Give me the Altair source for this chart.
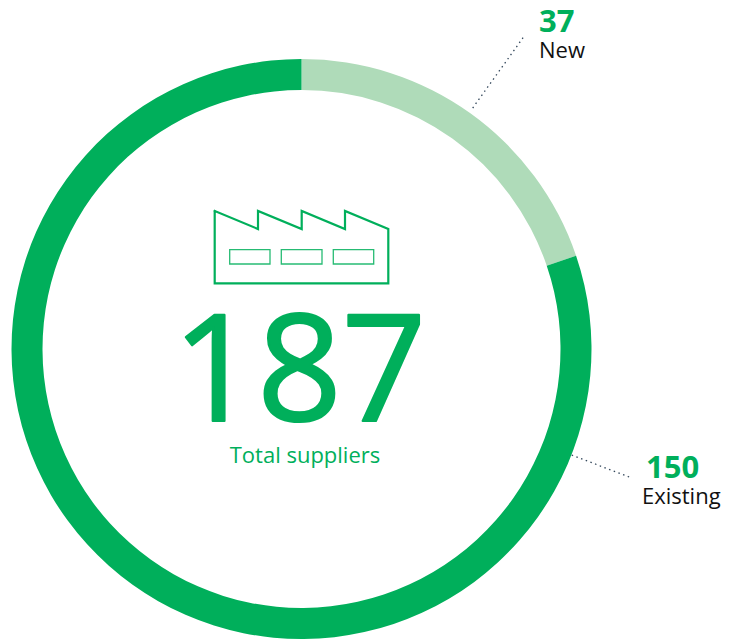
import altair as alt
import pandas as pd

GREEN = "#00AF5B"
LIGHT = "#AFDBB9"
FONT = "Open Sans"

segments = ["New", "Existing"]
values = [37, 150]
seg_colors = [LIGHT, GREEN]

# geometry of overlay items, in reference pixels
factory_x = [214.7, 258, 258, 301.7, 301.7, 345, 345, 388.3, 388.3, 214.7, 214.7]
factory_y = [211, 229, 211, 229, 211, 229, 211, 229, 283.3, 283.3, 211]
window_x = [229.7, 281.3, 333.3]
window_x2 = [270, 322, 373.7]
window_y = [249.7] * 3
window_y2 = [264] * 3
leader_x = [472.7, 571.7]
leader_x2 = [525, 631.7]
leader_y = [108, 455]
leader_y2 = [35, 478]

xs = alt.Scale(domain=[8, 722], range=[0, 714])
ys = alt.Scale(domain=[8, 640], range=[0, 632])
X = lambda f: alt.X(f, type="quantitative", scale=xs, axis=None)
Y = lambda f: alt.Y(f, type="quantitative", scale=ys, axis=None)

donut = alt.Chart(pd.DataFrame({"s": segments, "v": values, "o": [0, 1]})).mark_arc(
    radius=290, radius2=259
).encode(
    theta=alt.Theta("v:Q", stack=True),
    order=alt.Order("o:Q"),
    color=alt.Color("s:N", scale=alt.Scale(domain=segments, range=seg_colors), legend=None),
    x=alt.value(293.5),
    y=alt.value(341),
)

factory = alt.Chart(pd.DataFrame({"x": factory_x, "y": factory_y, "o": list(range(len(factory_x)))})).mark_line(
    color=GREEN, strokeWidth=2.2, strokeJoin="miter", strokeCap="square"
).encode(x=X("x"), y=Y("y"), order="o:Q")

windows = alt.Chart(pd.DataFrame({"x": window_x, "x2": window_x2, "y": window_y, "y2": window_y2})).mark_rect(
    fillOpacity=0, stroke=GREEN, strokeWidth=1.3, strokeOpacity=0.85
).encode(x=X("x"), x2="x2", y=Y("y"), y2="y2")

leaders = alt.Chart(pd.DataFrame({"x": leader_x, "x2": leader_x2, "y": leader_y, "y2": leader_y2})).mark_rule(
    color="#33475b", strokeWidth=1.3, strokeDash=[1.5, 3.5]
).encode(x=X("x"), x2="x2", y=Y("y"), y2="y2")

big = alt.Chart(pd.DataFrame({"t": ["187"], "x": [299.5], "y": [421]})).mark_text(
    font=FONT, fontSize=148, color=GREEN, align="center", baseline="alphabetic",
    stroke=GREEN, strokeWidth=2.2, strokeJoin="round"
).encode(x=X("x"), y=Y("y"), text="t:N")

texts = [
    ("Total suppliers", 305, 463, 22, "normal", GREEN, "center", FONT),
    ("37", 539, 32, 31, "bold", GREEN, "left", FONT),
    ("New", 539, 58, 22, "normal", "#111111", "left", FONT),
    ("150", 646, 478, 31, "bold", GREEN, "left", FONT),
    ("Existing", 642, 504, 22, "normal", "#111111", "left", FONT),
]
text_layers = [
    alt.Chart(pd.DataFrame({"t": [t], "x": [x], "y": [y]})).mark_text(
        font=f, fontSize=fs, fontWeight=w, color=c, align=a, baseline="alphabetic"
    ).encode(x=X("x"), y=Y("y"), text="t:N")
    for t, x, y, fs, w, c, a, f in texts
]

chart = alt.layer(donut, leaders, factory, windows, big, *text_layers).properties(
    width=714, height=632, padding=0, autosize=alt.AutoSizeParams(type="none"), background="white"
).configure_view(stroke=None)

chart.save("out.html", embed_options={"renderer": "svg", "actions": False})
